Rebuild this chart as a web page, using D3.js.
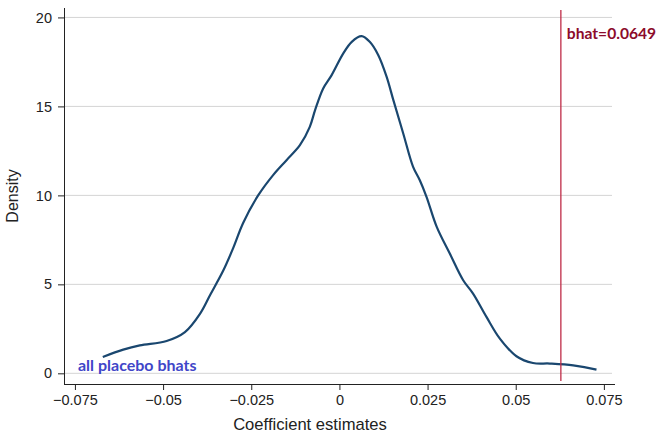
<!DOCTYPE html>
<html lang="en">
<head>
<meta charset="UTF-8">
<title>placebo density</title>
<script src="https://d3js.org/d3.v7.min.js"></script>
<style>
    body { margin: 0; background: #fff; }
    svg { display: block; }
    .tick text { font-family: "Liberation Sans", Arial, sans-serif; font-size: 14.5px; fill: #222; }
</style>
</head>
<body>
<svg width="658" height="433"></svg>
<script>
    // kernel density of the placebo coefficients
    const est = [-0.0671, -0.0613, -0.0566, -0.0490, -0.0438, -0.0395, -0.0367, -0.0329, -0.0301, -0.0273,
        -0.0230, -0.0188, -0.0150, -0.0112, -0.0084, -0.0069, -0.0046, -0.0022, 0.0011, 0.0035,
        0.0063, 0.0086, 0.0110, 0.0134, 0.0153, 0.0181, 0.0209, 0.0228, 0.0247, 0.0276,
        0.0313, 0.0351, 0.0379, 0.0417, 0.0455, 0.0502, 0.0549, 0.0597, 0.0663, 0.0729];
    const density = [0.92, 1.33, 1.57, 1.82, 2.32, 3.36, 4.39, 5.79, 7.05, 8.45,
        10.01, 11.14, 11.98, 12.82, 13.85, 14.79, 16.01, 16.76, 17.98, 18.63,
        18.95, 18.63, 17.89, 16.66, 15.35, 13.48, 11.60, 10.85, 9.92, 8.23,
        6.73, 5.23, 4.48, 3.17, 1.95, 0.96, 0.58, 0.55, 0.45, 0.21];
    const xTicks = [-0.075, -0.05, -0.025, 0, 0.025, 0.05, 0.075];
    const yTicks = [0, 5, 10, 15, 20];
    const bhatLine = 0.0628;
    const bhatLabel = "bhat=0.0649";

    const pts = est.map((e, i) => ({ x: e, y: density[i] }));

    const svg = d3.select("svg");
    const pLeft = 64, pRight = 612, pTop = 8, pBottom = 384;

    const x = d3.scaleLinear().domain([-0.0781, 0.0773]).range([pLeft, pRight]);
    const y = d3.scaleLinear().domain([-0.6, 20.53]).range([pBottom, pTop]);

    // grid
    svg.append("g").selectAll("line")
        .data(yTicks)
        .enter().append("line")
        .attr("x1", pLeft).attr("x2", pRight)
        .attr("y1", d => y(d)).attr("y2", d => y(d))
        .attr("stroke", "#d4d4d4")
        .attr("stroke-width", 1);

    const fmt = d => d === 0 ? "0" : d3.format("")(d).replace("-", "\u2212");

    const xAxis = svg.append("g")
        .attr("transform", `translate(0,${pBottom})`)
        .call(d3.axisBottom(x).tickValues(xTicks).tickSize(6).tickPadding(5).tickFormat(fmt));
    xAxis.select(".domain").attr("d", `M${pLeft},0.5H${pRight + 3}`);

    const yAxis = svg.append("g")
        .attr("transform", `translate(${pLeft},0)`)
        .call(d3.axisLeft(y).tickValues(yTicks).tickSize(6).tickPadding(6));
    yAxis.select(".domain").attr("d", `M0.5,${pTop}V${pBottom}`);

    svg.selectAll(".domain").attr("stroke", "#222");
    svg.selectAll(".tick line").attr("stroke", "#222");

    // density curve
    const line = d3.line()
        .x(d => x(d.x))
        .y(d => y(d.y))
        .curve(d3.curveCatmullRom.alpha(0.5));

    svg.append("path")
        .datum(pts)
        .attr("fill", "none")
        .attr("stroke", "#1a476f")
        .attr("stroke-width", 2.2)
        .attr("stroke-linejoin", "round")
        .attr("d", line);

    // actual estimate
    svg.append("line")
        .attr("x1", x(bhatLine)).attr("x2", x(bhatLine))
        .attr("y1", pTop + 2).attr("y2", pBottom - 3)
        .attr("stroke", "#bf2b47")
        .attr("stroke-width", 1.3);

    svg.append("text")
        .attr("x", x(bhatLine) + 6)
        .attr("y", 39)
        .attr("font-family", "Lato, sans-serif")
        .attr("font-weight", "bold")
        .attr("font-size", 15.6)
        .attr("fill", "#8c0b2b")
        .text(bhatLabel);

    svg.append("text")
        .attr("x", 78)
        .attr("y", 371)
        .attr("font-family", "Lato, sans-serif")
        .attr("font-weight", "bold")
        .attr("font-size", 16)
        .attr("fill", "#3f46c8")
        .text("all placebo bhats");

    // axis titles
    svg.append("text")
        .attr("x", 310)
        .attr("y", 430)
        .attr("text-anchor", "middle")
        .attr("font-family", "Liberation Sans, Arial, sans-serif")
        .attr("font-size", 16.6)
        .attr("fill", "#222")
        .text("Coefficient estimates");

    svg.append("text")
        .attr("transform", "translate(18,196) rotate(-90)")
        .attr("text-anchor", "middle")
        .attr("font-family", "Liberation Sans, Arial, sans-serif")
        .attr("font-size", 16)
        .attr("fill", "#222")
        .text("Density");
</script>
</body>
</html>
